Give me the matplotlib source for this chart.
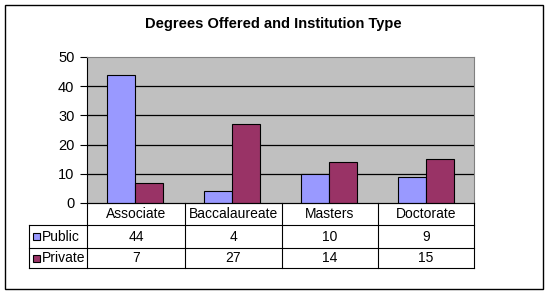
import matplotlib
matplotlib.use("Agg")
import matplotlib.pyplot as plt
from matplotlib.patches import Rectangle

plt.rcParams['font.family'] = ['Liberation Sans', 'DejaVu Sans']

title = "Degrees Offered and Institution Type"
categories = ["Associate", "Baccalaureate", "Masters", "Doctorate"]
series_names = ["Public", "Private"]
public = [44, 4, 10, 9]
private = [7, 27, 14, 15]
yticks = [0, 10, 20, 30, 40, 50]

colors = ["#9999FF", "#993366"]
W, H = 550, 296
fig = plt.figure(figsize=(W / 100, H / 100), dpi=100)

# pixel layout
L, R, T, B = 87, 474, 57, 203
ax = fig.add_axes([L / W, (H - B) / H, (R - L) / W, (B - T) / H])
ax.set_facecolor("#C0C0C0")
x = list(range(len(categories)))
bw = 0.29
for i, (vals, c) in enumerate(zip([public, private], colors)):
    off = (i - 0.5) * bw
    ax.bar([xi + off for xi in x], vals, width=bw, color=c,
           edgecolor="black", linewidth=0.8, zorder=3)
ax.set_xlim(-0.5, len(categories) - 0.5)
ax.set_ylim(0, 50)
ax.set_yticks(yticks)
ax.set_yticklabels([str(v) for v in yticks], fontsize=10.5)
ax.tick_params(axis='y', length=5, width=0.8, direction='out', pad=4)
ax.set_xticks([])
for yv in yticks[1:-1]:
    ax.axhline(yv, color="black", linewidth=0.9, zorder=1)
ax.spines['left'].set_color('black')
ax.spines['bottom'].set_color('black')
ax.spines['top'].set_color('#808080')
ax.spines['right'].set_color('#808080')
for s in ax.spines.values():
    s.set_linewidth(0.8)

# overlay for table and border
ov = fig.add_axes([0, 0, 1, 1], zorder=5)
ov.set_xlim(0, W)
ov.set_ylim(H, 0)
ov.axis('off')
ov.patch.set_alpha(0)

# outer border
ov.add_patch(Rectangle((5, 5), 538, 284, fill=False, edgecolor='black', linewidth=1))

ov.text(273, 24, title, ha='center', va='center', fontsize=10.5, fontweight='bold')

col_x = [87, 185, 282, 378, 474]
row_y = [203, 225, 248, 268]
lx = 29
lw = 0.8
# horizontal lines
ov.plot([L, R], [row_y[0], row_y[0]], color='black', lw=lw)
for yy in row_y[1:]:
    ov.plot([lx, R], [yy, yy], color='black', lw=lw)
# vertical lines
for xx in col_x:
    ov.plot([xx, xx], [row_y[0], row_y[-1]], color='black', lw=lw)
ov.plot([lx, lx], [row_y[1], row_y[-1]], color='black', lw=lw)

for j, cat in enumerate(categories):
    cx = (col_x[j] + col_x[j + 1]) / 2
    ov.text(cx, (row_y[0] + row_y[1]) / 2 + 0.5, cat, ha='center', va='center', fontsize=10)
    for k, vals in enumerate([public, private]):
        ov.text(cx, (row_y[k + 1] + row_y[k + 2]) / 2 + 0.5, str(vals[j]),
                ha='center', va='center', fontsize=10)

for k, (name, c) in enumerate(zip(series_names, colors)):
    cy = (row_y[k + 1] + row_y[k + 2]) / 2
    ov.add_patch(Rectangle((33, cy - 3.5), 7, 7, facecolor=c, edgecolor='black', linewidth=0.8))
    ov.text(42, cy + 0.5, name, ha='left', va='center', fontsize=10)

fig.savefig("out.png", dpi=100)
